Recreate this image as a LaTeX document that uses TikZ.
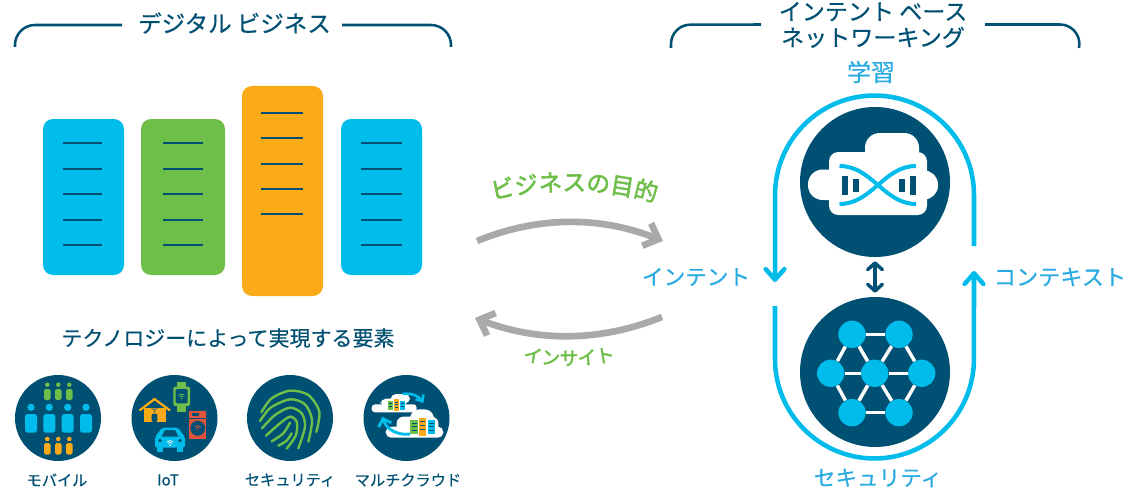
\documentclass[tikz,border=0pt]{standalone}
\usepackage{fontspec}
\setmainfont[FakeBold=0.35]{Noto Sans CJK JP}
\newfontfamily\arcfont[FakeBold=2.2]{Noto Sans CJK JP}
\usetikzlibrary{arrows.meta,decorations.text}
\definecolor{navy}{HTML}{005073}
\definecolor{cyanb}{HTML}{00BCEB}
\definecolor{greenb}{HTML}{6EBE4A}
\definecolor{orangeb}{HTML}{FBAB18}
\definecolor{labelb}{HTML}{29ABE2}
\definecolor{greyb}{HTML}{A8A9AA}
\definecolor{redb}{HTML}{E2533B}
\tikzset{
  x=0.75pt,y=-0.75pt,
  heading/.style={text=navy,font=\fontsize{17.6}{19.5}\selectfont,inner sep=0pt,align=center},
  bluelabel/.style={text=labelb,inner sep=0pt},
  iconlabel/.style={text=navy,inner sep=0pt,font=\fontsize{11.4}{13}\selectfont},
  bracket/.style={draw=navy,line width=1.9pt,line cap=butt},
  barbox/.style={rounded corners=7.5pt},
  barline/.style={draw=navy,line width=1.8pt},
  bigdisc/.style={circle,fill=navy,inner sep=0pt,minimum size=112.5pt},
  smalldisc/.style={circle,fill=navy,inner sep=0pt,minimum size=64.5pt},
  loopline/.style={draw=cyanb,line width=3.4pt,-{Straight Barb[round,length=8pt,width=14pt]}},
  grey arrow/.style={draw=greyb,line width=5pt,-{Straight Barb[length=9.5pt,width=18pt]}},
  hub/.style={circle,fill=cyanb,inner sep=0pt,minimum size=20.5pt},
  hublink/.style={draw=white,line width=2.6pt},
  print/.style={draw=greenb,line width=1.8pt,line cap=round},
  wifiarc/.style={line width=.55pt},
}
\newcommand{\wifisym}[3]{%
  \fill[#3] (#1,#2) circle (.6pt);
  \draw[#3,wifiarc] ([shift={(45:1.9pt)}]#1,#2) arc[start angle=45,end angle=135,radius=1.9pt];
  \draw[#3,wifiarc] ([shift={(45:3.3pt)}]#1,#2) arc[start angle=45,end angle=135,radius=3.3pt];
}
\begin{document}
\begin{tikzpicture}
\useasboundingbox (0,0) rectangle (1146,492);
\fill[white] (0,0) rectangle (1146,492);

% --- headings
\node[heading] (hleft) at (234.5,23) {デジタル ビジネス};
\node[heading,font=\fontsize{17.3}{19.5}\selectfont] (hright) at (873,25) {インテント ベース\\ネットワーキング};
\coordinate (bl1) at (15,47); \coordinate (bl2) at (122,25);
\coordinate (bl3) at (342,25); \coordinate (bl4) at (451,47);
\draw[bracket] (bl1) -- (15,45) arc[start angle=180,end angle=90,radius=15pt] -- (bl2);
\draw[bracket] (bl3) -- (431,25) arc[start angle=90,end angle=0,radius=15pt] -- (bl4);
\coordinate (br1) at (671,48); \coordinate (br2) at (761,24.5);
\coordinate (br3) at (985,24.5); \coordinate (br4) at (1079,48);
\draw[bracket] (br1) -- (671,44) arc[start angle=180,end angle=90,radius=14.5pt] -- (br2);
\draw[bracket] (br3) -- (1060,24.5) arc[start angle=90,end angle=0,radius=14.5pt] -- (br4);

% --- bars
\fill[cyanb,barbox] (43,119) rectangle (124,275);
\fill[greenb,barbox] (141,119) rectangle (225,275);
\fill[orangeb,barbox] (242,86) rectangle (323,296);
\fill[cyanb,barbox] (341,119) rectangle (422,275);
\foreach \yy in {143,169,194,220,245}{
  \draw[barline] (63,\yy) -- (102,\yy);
  \draw[barline] (163,\yy) -- (203,\yy);
  \draw[barline] (361,\yy) -- (402,\yy);
}
\foreach \yy in {113,138,164,189,214}
  \draw[barline] (261,\yy) -- (303,\yy);

\node[heading,font=\fontsize{15.75}{18}\selectfont] (tech) at (228,338) {テクノロジーによって実現する要素};

% --- small discs
\node[smalldisc] (dmob) at (58,418) {};
\node[smalldisc] (diot) at (174.5,418) {};
\node[smalldisc] (dsec) at (290,418) {};
\node[smalldisc] (dmul) at (406.5,418) {};
\node[iconlabel] (lmob) at (57,480) {モバイル};
\node[iconlabel] (liot) at (168,480) {IoT};
\node[iconlabel] (lsec) at (290,480) {セキュリティ};
\node[iconlabel] (lmul) at (408,480) {マルチクラウド};

% mobile icon
\foreach \xx in {47.3,58.3,69.3}{
  \fill[greenb] (\xx,384.7) circle (1.7pt);
  \fill[greenb,rounded corners=1.2pt] (\xx-3.2,389) rectangle (\xx+3.2,400);
  \fill[orangeb] (\xx,439) circle (1.7pt);
  \fill[orangeb,rounded corners=1.2pt] (\xx-3.2,443) rectangle (\xx+3.2,454.5);
}
\foreach \xx in {31,49.3,67.7,86}{
  \fill[cyanb] (\xx,407.3) circle (2.7pt);
  \fill[cyanb,rounded corners=2pt] (\xx-6,414) rectangle (\xx+6,432.7);
}

% IoT icon
\fill[orangeb] (144,408) rectangle (165.7,421.7);
\draw[orangeb,line width=1.7pt] (139.5,410.5) -- (154.5,399) -- (170,410.5);
\fill[navy,rounded corners=1pt] (151.7,422) -- (151.7,413.5) -- (157.3,413.5) -- (157.3,422) -- cycle;
\wifisym{154.5}{411.5}{navy}
\fill[greenb] (176.7,381.7) rectangle (186,411.7);
\fill[greenb,rounded corners=1.5pt] (173.3,386.7) rectangle (190,406);
\fill[navy,rounded corners=1pt] (175.7,389) rectangle (187.7,403.3);
\wifisym{181.5}{398.5}{greenb}
\fill[redb] (189,411) rectangle (206.3,439);
\fill[navy] (189,417.7) rectangle (206.3,419);
\fill[navy] (191.5,413.2) rectangle (199,415.8);
\fill[navy] (197.7,428.3) circle (5.6pt);
\wifisym{197.7}{430}{redb}
\fill[cyanb,rounded corners=1.5pt] (162,427.7) -- (178,427.7) -- (185,437) -- (185,447.5) -- (155,447.5) -- (155,437) -- cycle;
\fill[navy] (165,430) -- (175,430) -- (178.5,436.7) -- (161.5,436.7) -- cycle;
\fill[cyanb] (157.3,447) rectangle (163.3,451.7);
\fill[cyanb] (176.7,447) rectangle (182.7,451.7);
\fill[navy] (160,440.5) circle (1.4pt);
\fill[navy] (180,440.5) circle (1.4pt);
\wifisym{170}{445}{white}

% fingerprint icon (coordinates in 1/3 px)
\begin{scope}[shift={(240,370)},x=0.25pt,y=-0.25pt]
\draw[print] plot[smooth] coordinates {(64,127) (95,85) (150,62) (205,75) (238,125) (229,186)};
\draw[print] plot[smooth] coordinates {(60,153) (92,113) (150,88) (195,103) (216,150) (205,215)};
\draw[print] plot[smooth] coordinates {(66,175) (105,135) (150,113) (185,130) (195,170) (175,235)};
\draw[print] plot[smooth] coordinates {(78,197) (120,160) (150,140) (170,155) (168,195) (140,236)};
\draw[print] plot[smooth] coordinates {(95,214) (130,190) (150,158)};
\draw[print] plot[smooth] coordinates {(115,227) (140,212) (155,190)};
\end{scope}

% multicloud icon (coordinates in 1/3 px)
\begin{scope}[shift={(240,370)},x=0.25pt,y=-0.25pt]
\fill[white,rounded corners=2.5pt] (395,103) rectangle (530,127);
\fill[white,rounded corners=4pt] (422,86) rectangle (500,110);
\fill[white,rounded corners=4pt] (452,72) rectangle (510,100);
\fill[white,rounded corners=4pt] (437,170) rectangle (610,203);
\fill[white,rounded corners=5pt] (470,140) rectangle (595,190);
\fill[white,rounded corners=7pt] (510,118) rectangle (582,170);
\fill[greenb] (444,92) rectangle (458,120);
\fill[orangeb] (462,87) rectangle (476,123);
\fill[cyanb] (479,92) rectangle (494,120);
\fill[greenb] (511,150) rectangle (534,192);
\fill[orangeb] (537,143) rectangle (558,198);
\fill[cyanb] (563,150) rectangle (585,192);
\foreach \a/\b/\yy in {447/455/100,447/455/108,465/473/96,465/473/104,465/473/112,482/491/100,482/491/108}
  \draw[navy,line width=.45pt] (\a,\yy) -- (\b,\yy);
\foreach \a/\b/\yy in {515/530/160,515/530/170,515/530/180,541/554/155,541/554/167,541/554/179,567/581/160,567/581/170,567/581/180}
  \draw[navy,line width=.6pt] (\a,\yy) -- (\b,\yy);
\draw[cyanb,line width=1.9pt,-{Straight Barb[length=4pt,width=7pt]}] (487,72) .. controls (515,68) and (537,78) .. (550,99);
\draw[cyanb,line width=2.2pt,-{Straight Barb[length=5pt,width=10pt]}] (510,192) .. controls (475,197) and (440,180) .. (427,140);
\end{scope}

% --- arrows in the middle
\coordinate (g1) at (477,241); \coordinate (g2) at (663,241);
\coordinate (g3) at (662,317); \coordinate (g4) at (475,318);
\draw[grey arrow] (g1) .. controls (538,216) and (600,216) .. (g2);
\draw[grey arrow] (g3) .. controls (600,342) and (538,342) .. (g4);
\path[decorate,decoration={text along path,text align=center,
  text={|\arcfont\fontsize{17.6}{20}\selectfont\color{greenb}|ビジネスの目的}}]
  (488,201) .. controls (540,187) and (610,187) .. (660,204);
\path[decorate,decoration={text along path,text align=center,
  text={|\arcfont\fontsize{14}{16}\selectfont\color{greenb}|インサイト}}]
  (520,360) .. controls (550,367) and (585,367) .. (618,360);

% --- right loop
\node[bigdisc] (learn) at (875,182) {};
\node[bigdisc] (secure) at (875,372) {};
\coordinate (lu1) at (974,246); \coordinate (lu2) at (775,282);
\coordinate (ld1) at (775,306); \coordinate (ld2) at (974,271);
\draw[loopline] (lu1) -- (974,195) arc[start angle=0,end angle=180,radius=74.6pt] -- (lu2);
\draw[loopline] (ld1) -- (775,359) arc[start angle=180,end angle=360,radius=74.6pt] -- (ld2);
\draw[navy,line width=2.6pt,{Straight Barb[round,length=5pt,width=11pt]}-{Straight Barb[round,length=5pt,width=11pt]}] (learn.south) ++(0,4) -- ([yshift=3pt]secure.north);

\node[bluelabel,font=\fontsize{18}{20}\selectfont] (llearn) at (871,72) {学習};
\node[bluelabel,font=\fontsize{16.2}{18}\selectfont] (lint) at (696,277) {インテント};
\node[bluelabel,font=\fontsize{16.6}{18}\selectfont] (lctx) at (1060,277) {コンテキスト};
\node[bluelabel,font=\fontsize{16.2}{18}\selectfont] (lsecb) at (878,478) {セキュリティ};

% cloud with helix
\fill[white,rounded corners=7pt] (829,152) rectangle (927,215);
\fill[white,rounded corners=11pt] (808,169.5) rectangle (845,200);
\fill[white,rounded corners=10.5pt] (910,170.5) rectangle (938,199.5);
\fill[white,rounded corners=11pt] (865,133) rectangle (919,170);
\fill[navy] (842.3,175.7) rectangle (847.5,195);
\fill[navy] (853.3,179) rectangle (859,192.3);
\fill[navy] (899.3,179) rectangle (904.7,192.3);
\fill[navy] (910.3,175.7) rectangle (916,195);
\draw[cyanb,line width=3pt] (839.5,166) .. controls (872,166) and (884,204) .. (916,204);
\draw[cyanb,line width=3pt] (839.5,204) .. controls (872,204) and (884,166) .. (916,166);

% hex network
\node[hub] (n1) at (852,334.3) {};
\node[hub] (n2) at (899,334.3) {};
\node[hub] (n3) at (830.7,373.3) {};
\node[hub] (n4) at (874.7,373.3) {};
\node[hub] (n5) at (921.7,373.3) {};
\node[hub] (n6) at (852,412.7) {};
\node[hub] (n7) at (899,412.7) {};
\foreach \a/\b in {n1/n2,n3/n4,n4/n5,n6/n7,n1/n3,n1/n4,n2/n4,n2/n5,n3/n6,n4/n6,n4/n7,n5/n7}
  \draw[hublink] (\a) -- (\b);
\end{tikzpicture}
\end{document}
